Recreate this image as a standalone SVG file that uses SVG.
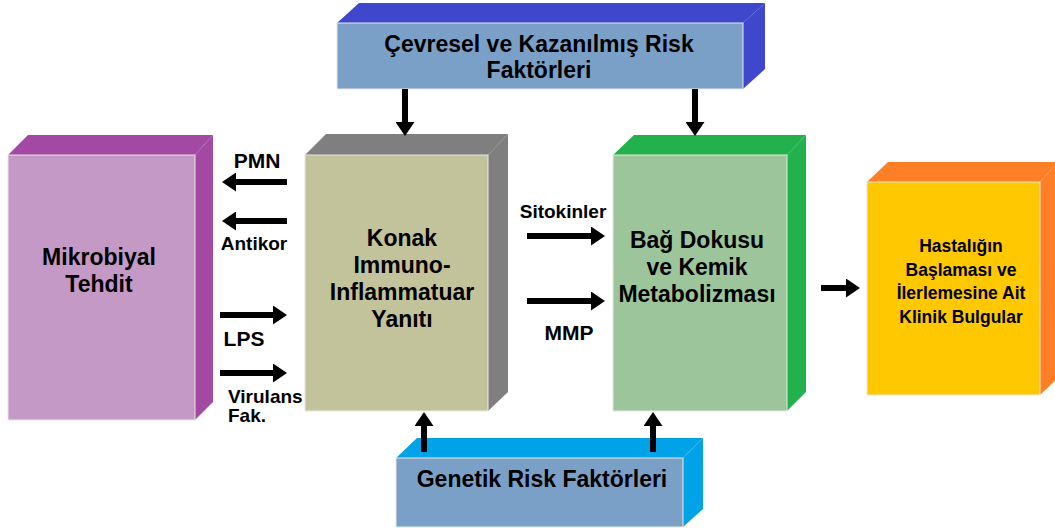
<svg xmlns="http://www.w3.org/2000/svg" width="1055" height="531" viewBox="0 0 1055 531">
<style>
text{font-family:"Liberation Sans",Arial,sans-serif;font-weight:bold;fill:#000;text-anchor:middle}
.big{font-size:23px}
.mid{font-size:17.5px}
.sm{font-size:19px}
.lbl{font-size:21px}
.edge{stroke:#e8e8e0;stroke-width:1}
.conn line{stroke:#000;stroke-width:6;marker-end:url(#ah)}
</style>
<defs>
<marker id="ah" viewBox="0 0 14 19" markerUnits="userSpaceOnUse" markerWidth="14" markerHeight="19" refX="2" refY="9.5" orient="auto">
<path d="M0,0 L14,9.5 L0,19 z" fill="#000"/>
</marker>
</defs>
<rect width="1055" height="531" fill="#fff"/>

<g id="cevresel">
<polygon points="337,23 359,3 765,3 743,23" fill="#3f48cc"/>
<polygon points="743,23 765,3 765,69 743,89" fill="#3f48cc"/>
<rect x="337" y="23" width="406" height="66" fill="#7ba0c7" class="edge"/>
<text class="big" x="539" y="52">Çevresel ve Kazanılmış Risk</text>
<text class="big" x="539" y="78">Faktörleri</text>
</g>

<g id="mikrobiyal">
<polygon points="8,155 28,135 213,135 195,155" fill="#a349a4"/>
<polygon points="195,155 213,135 213,402 195,420" fill="#a349a4"/>
<rect x="8" y="155" width="187" height="265" fill="#c499c6" class="edge"/>
<text class="big" x="99" y="265">Mikrobiyal</text>
<text class="big" x="99" y="292">Tehdit</text>
</g>

<g id="konak">
<polygon points="305,155 326,134 508,134 488,155" fill="#7f7f7f"/>
<polygon points="488,155 508,134 508,392 488,411" fill="#7f7f7f"/>
<rect x="305" y="155" width="183" height="256" fill="#c3c39b" class="edge"/>
<text class="big" x="402" y="246">Konak</text>
<text class="big" x="402" y="273">Immuno-</text>
<text class="big" x="402" y="300">Inflammatuar</text>
<text class="big" x="402" y="327">Yanıtı</text>
</g>

<g id="bag">
<polygon points="613,155 634,135 806,135 787,155" fill="#22b14c"/>
<polygon points="787,155 806,135 806,392 787,411" fill="#22b14c"/>
<rect x="613" y="155" width="174" height="256" fill="#9dc59b" class="edge"/>
<text class="big" x="697" y="248">Bağ Dokusu</text>
<text class="big" x="697" y="275">ve Kemik</text>
<text class="big" x="697" y="302">Metabolizması</text>
</g>

<g id="hastalik">
<polygon points="867,182 888,162 1058,162 1040,182" fill="#ff7f27"/>
<polygon points="1040,182 1058,162 1058,378 1040,395" fill="#ff7f27"/>
<rect x="867" y="182" width="173" height="213" fill="#ffc800" class="edge"/>
<text class="mid" x="961" y="252">Hastalığın</text>
<text class="mid" x="961" y="276">Başlaması ve</text>
<text class="mid" x="961" y="299">İlerlemesine Ait</text>
<text class="mid" x="961" y="323">Klinik Bulgular</text>
</g>

<g id="genetik">
<polygon points="396,458 417,438 703,438 683,458" fill="#00a2e8"/>
<polygon points="683,458 703,438 703,509 683,527" fill="#00a2e8"/>
<rect x="396" y="458" width="287" height="69" fill="#7ba0c7" class="edge"/>
<text class="big" x="542" y="487">Genetik Risk Faktörleri</text>
</g>

<g id="connectors" class="conn">
<line x1="405" y1="89" x2="405" y2="124"/>
<line x1="695" y1="89" x2="695" y2="124"/>
<line x1="424" y1="452" x2="424" y2="424"/>
<line x1="653" y1="452" x2="653" y2="424"/>
<line x1="287" y1="182" x2="234" y2="182"/>
<line x1="287" y1="221" x2="234" y2="221"/>
<line x1="220" y1="315" x2="275" y2="315"/>
<line x1="220" y1="373" x2="275" y2="373"/>
<line x1="527" y1="236" x2="593" y2="236"/>
<line x1="527" y1="301" x2="593" y2="301"/>
<line x1="821" y1="288" x2="848" y2="288"/>
</g>

<g id="labels">
<text class="lbl" x="257" y="168">PMN</text>
<text class="sm" x="254" y="250">Antikor</text>
<text class="lbl" x="244" y="346">LPS</text>
<text class="sm" x="228" y="403" style="text-anchor:start">Virulans</text>
<text class="sm" x="228" y="422" style="text-anchor:start">Fak.</text>
<text class="sm" x="563" y="218">Sitokinler</text>
<text class="lbl" x="569" y="340">MMP</text>
</g>
</svg>
